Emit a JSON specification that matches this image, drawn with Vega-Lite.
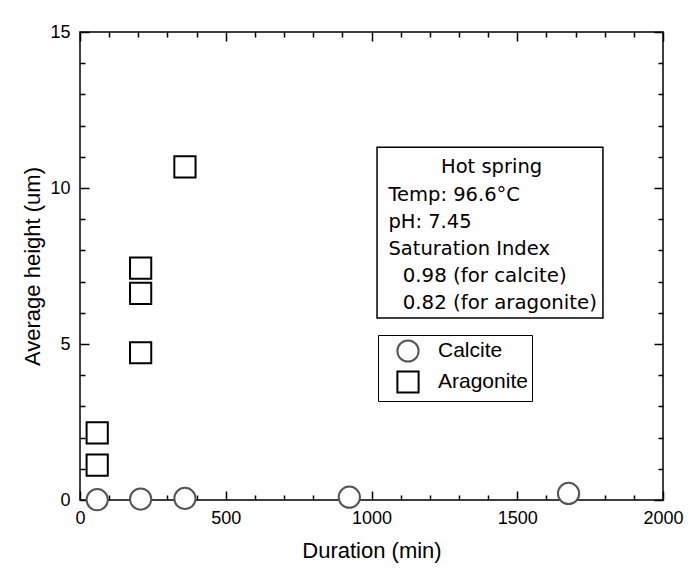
{
  "$schema": "https://vega.github.io/schema/vega-lite/v6.json",
  "width": 583,
  "height": 468,
  "autosize": {"type": "none"},
  "padding": {"left": 80, "top": 32, "right": 31, "bottom": 84},
  "background": "white",
  "config": {
    "view": {"stroke": "black", "strokeWidth": 1.5},
    "font": "Liberation Sans",
    "axis": {
      "domain": false,
      "grid": false,
      "tickColor": "black",
      "tickWidth": 1.5,
      "labelColor": "black",
      "labelFont": "Liberation Sans",
      "labelFontSize": 18,
      "titleFont": "Liberation Sans",
      "titleFontSize": 22,
      "titleFontWeight": "normal",
      "titleColor": "black",
      "labelOverlap": false,
      "labelFlush": false
    }
  },
  "layer": [
    {
      "data": {"values": [{}]},
      "mark": {"type": "rect", "fill": "white", "stroke": "black", "strokeWidth": 1.5},
      "encoding": {
        "x": {
          "datum": 1019,
          "type": "quantitative",
          "scale": {"domain": [0, 2000], "nice": false},
          "axis": {
            "orient": "top",
            "labels": false,
            "title": null,
            "values": [0,100,200,300,400,500,600,700,800,900,1000,1100,1200,1300,1400,1500,1600,1700,1800,1900,2000],
            "tickSize": {"condition": {"test": "datum.value % 500 === 0", "value": -9}, "value": -5}
          }
        },
        "x2": {"datum": 1794},
        "y": {
          "datum": 11.31,
          "type": "quantitative",
          "scale": {"domain": [0, 15], "nice": false},
          "axis": {
            "orient": "right",
            "labels": false,
            "title": null,
            "values": [0,1,2,3,4,5,6,7,8,9,10,11,12,13,14,15],
            "tickSize": {"condition": {"test": "datum.value % 5 === 0", "value": -9}, "value": -5}
          }
        },
        "y2": {"datum": 5.83}
      }
    },
    {
      "data": {"values": [{}]},
      "mark": {"type": "text", "text": "Hot spring", "font": "DejaVu Sans", "fontSize": 19.5, "align": "center", "baseline": "alphabetic", "color": "black"},
      "encoding": {
        "x": {"datum": 1412, "type": "quantitative", "axis": null},
        "y": {"datum": 10.48, "type": "quantitative", "axis": null}
      }
    },
    {
      "data": {"values": [{}]},
      "mark": {"type": "text", "text": ["Temp: 96.6°C", "pH: 7.45", "Saturation Index"], "lineHeight": 26.8, "font": "DejaVu Sans", "fontSize": 19.5, "align": "left", "baseline": "alphabetic", "color": "black"},
      "encoding": {
        "x": {"datum": 1058, "type": "quantitative", "axis": null},
        "y": {"datum": 9.58, "type": "quantitative", "axis": null}
      }
    },
    {
      "data": {"values": [{}]},
      "mark": {"type": "text", "text": ["0.98 (for calcite)", "0.82 (for aragonite)"], "lineHeight": 26.8, "font": "DejaVu Sans", "fontSize": 19.8, "align": "left", "baseline": "alphabetic", "color": "black"},
      "encoding": {
        "x": {"datum": 1107, "type": "quantitative", "axis": null},
        "y": {"datum": 6.99, "type": "quantitative", "axis": null}
      }
    },
    {
      "data": {
        "values": [
          {"mineral": "Calcite", "duration": 59, "height": 0.01},
          {"mineral": "Calcite", "duration": 208, "height": 0.03},
          {"mineral": "Calcite", "duration": 360, "height": 0.05},
          {"mineral": "Calcite", "duration": 924, "height": 0.09},
          {"mineral": "Calcite", "duration": 1676, "height": 0.21},
          {"mineral": "Aragonite", "duration": 59, "height": 1.12},
          {"mineral": "Aragonite", "duration": 59, "height": 2.15},
          {"mineral": "Aragonite", "duration": 208, "height": 4.72},
          {"mineral": "Aragonite", "duration": 208, "height": 6.62},
          {"mineral": "Aragonite", "duration": 208, "height": 7.43},
          {"mineral": "Aragonite", "duration": 360, "height": 10.68}
        ]
      },
      "mark": {"type": "point", "filled": false, "fill": "white", "fillOpacity": 1, "opacity": 1, "strokeWidth": 2, "size": 450},
      "encoding": {
        "x": {
          "field": "duration",
          "type": "quantitative",
          "scale": {"domain": [0, 2000], "nice": false},
          "axis": {
            "orient": "bottom",
            "title": "Duration (min)",
            "titleX": 291.5,
            "titleY": 50,
            "titleBaseline": "middle",
            "titleFontSize": 22,
            "values": [0,100,200,300,400,500,600,700,800,900,1000,1100,1200,1300,1400,1500,1600,1700,1800,1900,2000],
            "format": "d",
            "labelExpr": "datum.value % 500 === 0 ? datum.label : ''",
            "labelFontSize": 18,
            "labelFlush": false,
            "labelPadding": 18,
            "tickSize": {"condition": {"test": "datum.value % 500 === 0", "value": -9}, "value": -5}
          }
        },
        "y": {
          "field": "height",
          "type": "quantitative",
          "scale": {"domain": [0, 15], "nice": false},
          "axis": {
            "orient": "left",
            "title": "Average height (um)",
            "titleX": -48,
            "titleY": 234,
            "titleAngle": -90,
            "titleBaseline": "middle",
            "titleFontSize": 22,
            "values": [0,1,2,3,4,5,6,7,8,9,10,11,12,13,14,15],
            "format": "d",
            "labelExpr": "datum.value % 5 === 0 ? datum.label : ''",
            "labelFontSize": 18,
            "labelFlush": false,
            "labelPadding": 19,
            "tickSize": {"condition": {"test": "datum.value % 5 === 0", "value": -9}, "value": -5}
          }
        },
        "shape": {
          "field": "mineral",
          "type": "nominal",
          "scale": {"domain": ["Calcite", "Aragonite"], "range": ["circle", "square"]},
          "legend": {
            "orient": "none",
            "legendX": 298,
            "legendY": 303,
            "title": null,
            "strokeColor": "black",
            "fillColor": "white",
            "padding": 4,
            "symbolOffset": 14,
            "labelOffset": 18,
            "rowPadding": 1,
            "labelFontSize": 21,
            "labelFont": "Liberation Sans",
            "labelColor": "black",
            "symbolSize": 450,
            "symbolStrokeWidth": 2,
            "symbolFillColor": "white"
          }
        },
        "stroke": {
          "field": "mineral",
          "type": "nominal",
          "scale": {"domain": ["Calcite", "Aragonite"], "range": ["#555555", "#000000"]},
          "legend": {
            "orient": "none",
            "legendX": 298,
            "legendY": 303,
            "title": null,
            "strokeColor": "black",
            "fillColor": "white",
            "padding": 4,
            "symbolOffset": 14,
            "labelOffset": 18,
            "rowPadding": 1,
            "labelFontSize": 21,
            "labelFont": "Liberation Sans",
            "labelColor": "black",
            "symbolSize": 450,
            "symbolStrokeWidth": 2,
            "symbolFillColor": "white"
          }
        }
      }
    }
  ],
  "resolve": {"axis": {"x": "independent", "y": "independent"}}
}
